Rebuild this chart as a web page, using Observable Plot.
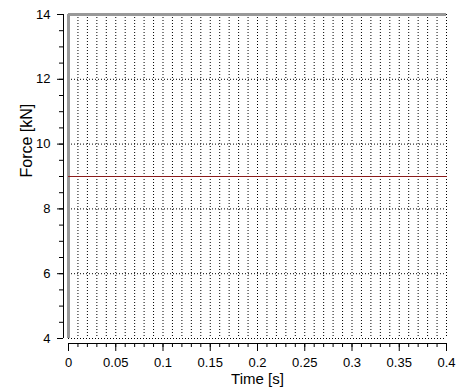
<!DOCTYPE html>
<html><head><meta charset="utf-8">
<script src="https://cdn.jsdelivr.net/npm/d3@7"></script>
<script src="https://cdn.jsdelivr.net/npm/@observablehq/plot@0.6"></script>
<style>body{margin:0;background:#fff} svg{font-family:"Liberation Sans",Arial,sans-serif}</style>
</head><body><div id="chart"></div>
<script>
const time = [0, 0.4];
const force = [9, 9];
const xMajorTicks = [0, 0.05, 0.1, 0.15, 0.2, 0.25, 0.3, 0.35, 0.4];
const xMinorTicks = d3.range(0, 41).map(i => i / 100);
const yMajorTicks = [4, 6, 8, 10, 12, 14];
const yMinorTicks = d3.range(0, 21).map(i => 4 + i / 2);
const yGrid = [4, 6, 8, 10, 12];
const xLabel = "Time [s]";
const yLabel = "Force [kN]";

const rows = time.map((t, i) => ({t, f: force[i]}));

const chart = Plot.plot({
  width: 465, height: 392,
  marginLeft: 68, marginRight: 19, marginTop: 14, marginBottom: 54,
  style: {background: "#fff", fontFamily: "Liberation Sans, Arial, sans-serif"},
  x: {domain: [0, 0.4], axis: null},
  y: {domain: [4, 14], axis: null},
  marks: [
    Plot.ruleX(xMinorTicks.filter(d => d > 0), {stroke: "#000", strokeDasharray: "1,2", strokeOpacity: 1}),
    Plot.ruleY(yGrid, {stroke: "#000", strokeDasharray: "1,2", strokeOpacity: 1}),
    Plot.ruleX([0], {stroke: "#999", strokeWidth: 3}),
    Plot.ruleY([14], {stroke: "#999", strokeWidth: 3}),
    Plot.line(rows, {x: "t", y: "f", stroke: "#8b1a1a", strokeWidth: 1}),
    Plot.ruleX([0], {dx: -5, stroke: "#000"}),
    Plot.axisY({ticks: yMajorTicks, tickSize: 6, dx: -5, tickPadding: 7, fontSize: 13, label: null, tickFormat: d => String(d), strokeOpacity: 1}),
    Plot.axisY({ticks: yMinorTicks, tickSize: 4, dx: -5, tickFormat: () => "", label: null, strokeOpacity: 1}),
    Plot.ruleY([4], {dy: 5, stroke: "#000"}),
    Plot.axisX({ticks: xMajorTicks, tickSize: 8, dy: 5, tickPadding: 6, fontSize: 13, label: null, tickFormat: d => String(d), strokeOpacity: 1}),
    Plot.axisX({ticks: xMinorTicks, tickSize: 4, dy: 5, tickFormat: () => "", label: null, strokeOpacity: 1}),
    Plot.text([xLabel], {frameAnchor: "bottom", dy: 45, fontSize: 15, fill: "#000"}),
    Plot.text([yLabel], {frameAnchor: "left", rotate: -90, dx: -42, dy: 1, fontSize: 16, fill: "#000"})
  ]
});
document.getElementById("chart").appendChild(chart);
</script></body></html>
